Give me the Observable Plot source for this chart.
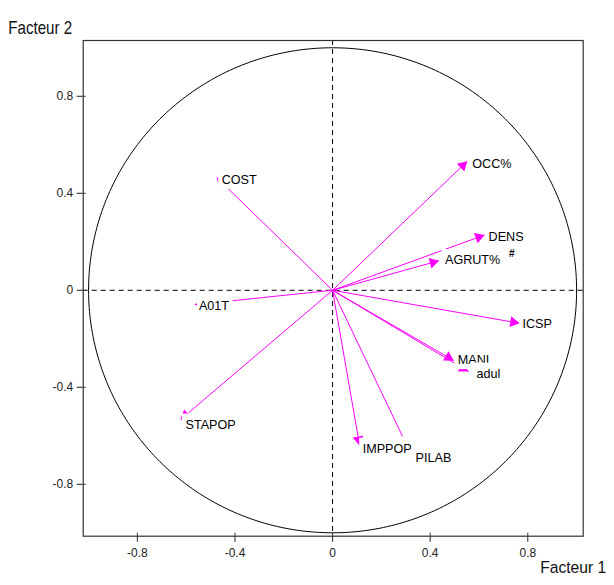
<!DOCTYPE html>
<html><head><meta charset="utf-8">
<script src="https://cdn.jsdelivr.net/npm/d3@7"></script>
<script src="https://cdn.jsdelivr.net/npm/@observablehq/plot@0.6"></script>
<style>body{margin:0;background:#fff;} svg{display:block;}</style>
</head><body><div id="chart"></div>
<script>
// ---- data ----
const variables = ["OCC%", "DENS", "AGRUT%", "ICSP", "MANI", "adul", "COST", "A01T", "STAPOP", "IMPPOP", "PILAB"];
const factor1   = [0.552, 0.623, 0.436, 0.766, 0.497, 0.557, -0.475, -0.564, -0.623, 0.111, 0.287];
const factor2   = [0.532, 0.228, 0.122, -0.136, -0.290, -0.335, 0.465, -0.059, -0.533, -0.641, -0.603];
const xTicks = [-0.8, -0.4, 0, 0.4, 0.8];
const yTicks = [-0.8, -0.4, 0, 0.4, 0.8];
const xTitle = "Facteur 1";
const yTitle = "Facteur 2";
const stray = "#";

// ---- layout / style ----
const W = 614, H = 585;
const mL = 82.7, mR = 31.3, mT = 40, mB = 49.3;
const xDomain = [-1.022, 1.027], yDomain = [-1.014, 1.03];
const kx = (W - mL - mR) / (xDomain[1] - xDomain[0]);
const ky = (H - mT - mB) / (yDomain[1] - yDomain[0]);
const MAG = "#ff00ff";
const labelFont = "'Liberation Sans', Arial, sans-serif";
const labelSize = 12.6;
const headless = new Set(["PILAB"]);
const labelOffset = {
  "OCC%": [5, 2.6], "DENS": [4, 1.5], "AGRUT%": [6, -0.7], "ICSP": [3, 0.6],
  "MANI": [4, -1], "adul": [8, 2], "COST": [5, 2], "A01T": [4, 1.3],
  "STAPOP": [5, 5], "IMPPOP": [3, 3], "PILAB": [13, 21]
};
const boxPadLeft = {"A01T": 1.5, "PILAB": 1};

const vectors = variables.map((name, i) => ({name, x: factor1[i], y: factor2[i]}));

// arrowhead triangles: centred slightly behind the tip, rotated along the vector
const headR = 4, headBack = 6.2;
const heads = vectors.filter(d => !headless.has(d.name)).map(d => {
  const sx = d.x * kx, sy = d.y * ky, n = Math.hypot(sx, sy);
  return {
    x: d.x - headBack * (sx / n) / kx,
    y: d.y - headBack * (sy / n) / ky,
    angle: Math.atan2(sx, sy) * 180 / Math.PI
  };
});

// unit circle guide
const circle = d3.range(0, 361, 1).map(a => ({x: Math.cos(a * Math.PI / 180), y: Math.sin(a * Math.PI / 180)}));

// white label boxes (as in the original, they hide what lies under the label)
const ctx = document.createElement("canvas").getContext("2d");
ctx.font = `${labelSize}px ${labelFont}`;
const labelMarks = vectors.flatMap(d => {
  const [dx, dy] = labelOffset[d.name];
  const w = ctx.measureText(d.name).width;
  const pl = boxPadLeft[d.name] ?? 3;
  const box = {
    x1: d.x + (dx - pl) / kx, x2: d.x + (dx + w + 4) / kx,
    y1: d.y - (dy + 10) / ky, y2: d.y - (dy - 10.5) / ky
  };
  return [
    Plot.rect([box], {x1: "x1", x2: "x2", y1: "y1", y2: "y2", fill: "white"}),
    Plot.text([d], {
      x: "x", y: "y", text: "name", dx, dy, textAnchor: "start", fill: "black",
      fontSize: labelSize, fontFamily: labelFont
    })
  ];
});
const agr = vectors.find(d => d.name === "AGRUT%");

const chart = Plot.plot({
  width: W, height: H,
  marginLeft: mL, marginRight: mR, marginTop: mT, marginBottom: mB,
  style: {fontFamily: labelFont, fontSize: "12px", color: "#222", background: "white"},
  x: {domain: xDomain, ticks: xTicks, tickFormat: d => String(d), tickSize: 6, tickPadding: 6, label: null},
  y: {domain: yDomain, ticks: yTicks, tickFormat: d => String(d), tickSize: 6, tickPadding: 4, label: null},
  marks: [
    Plot.ruleX([0], {stroke: "black", strokeWidth: 1, strokeDasharray: "5,4"}),
    Plot.ruleY([0], {stroke: "black", strokeWidth: 1, strokeDasharray: "5,4"}),
    Plot.line(circle, {x: "x", y: "y", stroke: "black", strokeWidth: 1}),
    Plot.ruleX(xTicks, {x: d => d, y1: yDomain[0], y2: yDomain[0], insetTop: -3, stroke: "#333"}),
    Plot.ruleY(yTicks, {y: d => d, x1: xDomain[0], x2: xDomain[0], insetRight: -3, stroke: "#333"}),
    Plot.link(vectors, {x1: 0, y1: 0, x2: "x", y2: "y", stroke: MAG, strokeWidth: 1}),
    Plot.dot(heads, {x: "x", y: "y", symbol: "triangle", r: headR, fill: MAG, stroke: null, rotate: "angle"}),
    ...labelMarks,
    Plot.text([stray], {x: agr.x, y: agr.y, text: d => d, dx: 70, dy: -7, textAnchor: "start", fontSize: 10, fontWeight: "bold", fontFamily: labelFont, fill: "black"}),
    Plot.frame({stroke: "#333", strokeWidth: 1.2}),
    Plot.text([yTitle], {frameAnchor: "top-left", text: d => d, dx: -75, dy: -20, textAnchor: "start", fontSize: 19, fontFamily: labelFont, fill: "#111"}),
    Plot.text([xTitle], {frameAnchor: "bottom-right", text: d => d, dx: 23, dy: 37, textAnchor: "end", fontSize: 17, fontFamily: labelFont, fill: "#111"})
  ]
});
// squeeze the two axis titles to the narrow width they have in the original
chart.querySelectorAll("text").forEach(t => {
  if (t.textContent === yTitle) {
    t.setAttribute("textLength", 64);
    t.setAttribute("lengthAdjust", "spacingAndGlyphs");
  } else if (t.textContent === xTitle) {
    t.setAttribute("textLength", 66);
    t.setAttribute("lengthAdjust", "spacingAndGlyphs");
  }
});
document.getElementById("chart").appendChild(chart);
</script>
</body></html>
